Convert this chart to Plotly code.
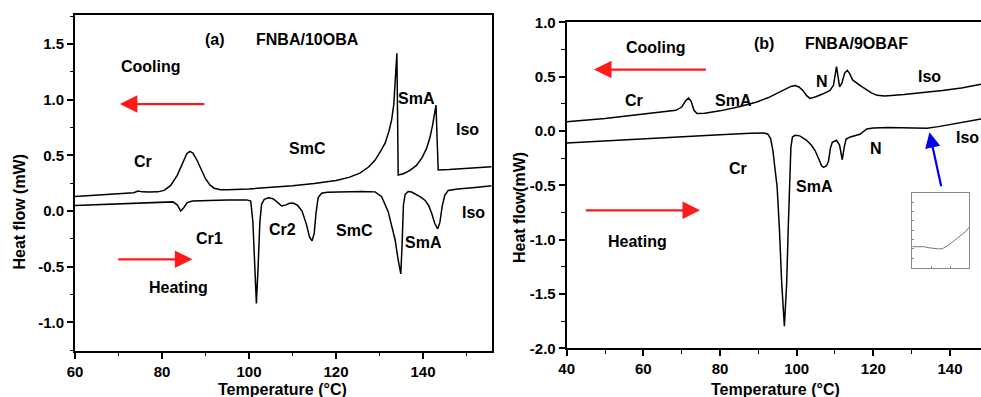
import plotly.graph_objects as go

# ---------------- (a) FNBA/10OBA ----------------
a_cool_T = [60, 64, 68, 72, 73.5, 74.5, 75.5, 77, 79, 80.5, 82, 83.5, 84.8, 85.7, 86.4, 87.1, 88, 89, 90, 91,
            92, 93.5, 95, 100, 105, 110, 115, 120, 123, 125.5, 127.5, 129, 130.3, 131.3, 132.2, 132.8, 133.3,
            133.6, 133.85, 134.0, 134.15, 134.3, 135.5, 137, 138.5, 139.8, 140.8, 141.6, 142.2, 142.6, 143.0,
            143.25, 143.5, 146, 150, 155.8]
a_cool_H = [0.130, 0.140, 0.150, 0.160, 0.165, 0.180, 0.172, 0.170, 0.172, 0.185, 0.230, 0.320, 0.440, 0.515,
            0.535, 0.520, 0.460, 0.370, 0.290, 0.235, 0.205, 0.192, 0.190, 0.198, 0.210, 0.228, 0.248, 0.275,
            0.302, 0.340, 0.395, 0.458, 0.540, 0.610, 0.720, 0.820, 0.960, 1.120, 1.300, 1.417, 0.900, 0.323,
            0.335, 0.365, 0.410, 0.480, 0.560, 0.660, 0.770, 0.880, 0.952, 0.650, 0.368, 0.372, 0.382, 0.398]

a_heat_T = [60, 65, 70, 75, 80, 82.5, 83.5, 84.3, 85.0, 85.8, 87, 90, 95, 99.5, 100.4, 100.9, 101.3, 101.7,
            102.1, 102.5, 102.9, 103.5, 104.5, 105.5, 106.5, 107.5, 108.5, 109.3, 110.1, 111.2, 112.2, 113.2,
            113.9, 114.5, 115.0, 115.4, 115.9, 116.7, 118, 122, 126, 129, 130.5, 132, 133.6, 134.3, 134.9,
            135.2, 135.5, 135.9, 136.6, 137.4, 138.5, 139.5, 140.5, 141.3, 142.0, 142.7, 143.4, 143.9, 144.4,
            145.0, 145.8, 148, 152, 155.8]
a_heat_H = [0.050, 0.058, 0.066, 0.074, 0.082, 0.082, 0.055, 0.000, 0.030, 0.075, 0.090, 0.095, 0.098, 0.100,
            0.090, -0.100, -0.500, -0.830, -0.500, -0.100, 0.060, 0.105, 0.118, 0.110, 0.080, 0.045, 0.055,
            0.070, 0.072, 0.050, 0.000, -0.120, -0.230, -0.268, -0.200, -0.020, 0.120, 0.160, 0.168, 0.172,
            0.175, 0.172, 0.128, -0.006, -0.260, -0.440, -0.565, -0.300, 0.050, 0.150, 0.175, 0.170, 0.150,
            0.125, 0.095, 0.050, -0.020, -0.110, -0.160, -0.100, 0.040, 0.140, 0.185, 0.198, 0.212, 0.227]

# ---------------- (b) FNBA/9OBAF ----------------
b_cool_T = [40, 45, 50, 55, 60, 65, 68.5, 70, 71, 71.8, 72.5, 73.2, 74, 76, 80, 85, 89.6, 92.5, 95, 97, 98.5,
            99.6, 100.6, 101.7, 102.6, 103.5, 105, 106.9, 108.7, 109.6, 110.1, 110.4, 110.8, 111.2, 111.8,
            112.5, 113.2, 113.8, 114.6, 115.5, 116.5, 118, 119.5, 121, 123, 128, 133, 138, 143, 148.1]
b_cool_H = [0.085, 0.098, 0.115, 0.135, 0.153, 0.172, 0.190, 0.220, 0.275, 0.304, 0.270, 0.190, 0.160, 0.162,
            0.185, 0.222, 0.267, 0.305, 0.350, 0.390, 0.410, 0.418, 0.405, 0.370, 0.325, 0.300, 0.315, 0.342,
            0.374, 0.420, 0.520, 0.592, 0.500, 0.405, 0.440, 0.530, 0.558, 0.530, 0.470, 0.445, 0.420, 0.385,
            0.350, 0.328, 0.322, 0.335, 0.352, 0.372, 0.395, 0.430]

b_heat_T = [40, 50, 60, 70, 80, 88, 91.5, 92.5, 93.2, 93.8, 94.3, 94.9, 95.5, 96.1, 96.8, 97.4, 97.8, 98.1,
            98.5, 98.9, 99.6, 100.8, 102.6, 103.8, 104.8, 105.8, 106.5, 107.0, 107.8, 108.3, 108.8, 109.3,
            110.4, 111.2, 111.9, 112.4, 112.9, 114.0, 115.5, 116.5, 118.3, 120, 124, 130, 134, 137, 140, 144,
            148.1]
b_heat_H = [-0.110, -0.090, -0.070, -0.052, -0.035, -0.022, -0.018, -0.030, -0.070, -0.180, -0.320, -0.515,
            -0.900, -1.400, -1.797, -1.400, -0.900, -0.480, -0.150, -0.055, -0.040, -0.045, -0.086, -0.130,
            -0.180, -0.260, -0.320, -0.335, -0.320, -0.280, -0.160, -0.105, -0.086, -0.130, -0.265, -0.150,
            -0.075, -0.055, -0.040, -0.030, 0.018, 0.028, 0.031, 0.028, 0.025, 0.040, 0.060, 0.085, 0.110]

# enlarged view of the heating trace near the N-Iso transition
inset_T = [130, 131.5, 133, 134.5, 136, 137, 138, 139.5, 141, 142.5, 144, 145]
inset_H = [0.0280, 0.0283, 0.0280, 0.0265, 0.0255, 0.0250, 0.0255, 0.0300, 0.0360, 0.0420, 0.0480, 0.0540]

# tick values
a_xticks = [60, 80, 100, 120, 140]
a_yticks = [-1.0, -0.5, 0.0, 0.5, 1.0, 1.5]
b_xticks = [40, 60, 80, 100, 120, 140]
b_yticks = [-2.0, -1.5, -1.0, -0.5, 0.0, 0.5, 1.0]

# phase labels: (text, T, mW)
a_labels = [("(a)", 92.2, 1.545), ("FNBA/10OBA", 113.4, 1.545), ("Cooling", 77.4, 1.297),
            ("Cr", 75.7, 0.443), ("SmC", 113.4, 0.563), ("SmA", 138.4, 1.013), ("Iso", 150.2, 0.728),
            ("Cr1", 91.0, -0.245), ("Cr2", 107.7, -0.165), ("SmC", 124.2, -0.177), ("SmA", 140.1, -0.281),
            ("Iso", 151.6, -0.012), ("Heating", 83.8, -0.686)]
b_labels = [("(b)", 91.5, 0.804), ("FNBA/9OBAF", 115.6, 0.804), ("Cooling", 63.4, 0.764),
            ("Cr", 57.6, 0.282), ("SmA", 83.5, 0.282), ("N", 106.7, 0.451), ("Iso", 134.6, 0.503),
            ("Cr", 84.8, -0.346), ("SmA", 104.6, -0.515), ("N", 120.6, -0.162), ("Iso", 144.7, -0.061),
            ("Heating", 58.4, -1.021)]

# direction arrows: (T_tail, mW_tail, T_head, mW_head)
a_arrows = [(90.1, 0.961, 70.3, 0.961), (69.6, -0.434, 87.0, -0.434)]
b_arrows = [(76.7, 0.565, 47.1, 0.565), (44.6, -0.73, 74.8, -0.73)]
b_pointer = (137.8, -0.523, 134.65, -0.012)

FONT = "Liberation Sans, Arial, sans-serif"
W, H = 981, 397

fig = go.Figure()
line_style = dict(color="black", width=1.5)
fig.add_trace(go.Scatter(x=a_cool_T, y=a_cool_H, mode="lines", line=line_style, xaxis="x", yaxis="y"))
fig.add_trace(go.Scatter(x=a_heat_T, y=a_heat_H, mode="lines", line=line_style, xaxis="x", yaxis="y"))
fig.add_trace(go.Scatter(x=b_cool_T, y=b_cool_H, mode="lines", line=line_style, xaxis="x2", yaxis="y2"))
fig.add_trace(go.Scatter(x=b_heat_T, y=b_heat_H, mode="lines", line=line_style, xaxis="x2", yaxis="y2"))
fig.add_trace(go.Scatter(x=inset_T, y=inset_H, mode="lines", line=dict(color="#777777", width=1),
                         xaxis="x3", yaxis="y3"))


def px_x(p):
    return p / W


def px_y(p):
    return 1 - p / H


tickfont = dict(family=FONT, size=15, color="black", weight="bold")


def main_axis(domain, rng, ticks, minor_step, fmt, mirror):
    return dict(domain=domain, range=rng, tickvals=ticks, ticktext=[fmt % t for t in ticks],
                ticks="outside", ticklen=6, tickwidth=1.5, tickcolor="black",
                minor=dict(ticks="outside", ticklen=3.5, tickwidth=1.3, tickcolor="black", dtick=minor_step,
                           tick0=0, showgrid=False),
                showline=True, linewidth=2, linecolor="black", mirror=mirror, automargin=False,
                showgrid=False, zeroline=False, tickfont=tickfont)


layout = dict(
    width=W, height=H, margin=dict(l=0, r=0, t=0, b=0, autoexpand=False),
    paper_bgcolor="white", plot_bgcolor="white", showlegend=False,
    xaxis=dict(anchor="y", **main_axis([px_x(75), px_x(491.7)], [60, 155.8], a_xticks, 10, "%d", True)),
    yaxis=dict(anchor="x", **main_axis([px_y(350.7), px_y(15)], [-1.255, 1.761], a_yticks, 0.25, "%.1f", True)),
    xaxis2=dict(anchor="y2", **main_axis([px_x(566.7), 1.0], [40, 148.1], b_xticks, 10, "%d", True)),
    yaxis2=dict(anchor="x2", **main_axis([px_y(348.3), px_y(22.3)], [-2.0, 1.0], b_yticks, 0.25, "%.1f", False)),
    xaxis3=dict(anchor="y3", domain=[px_x(912.3), px_x(969.3)], range=[130, 145], showline=True, mirror=True,
                linecolor="#888888", linewidth=1, ticks="inside", ticklen=2, tickcolor="#888888",
                dtick=5, showticklabels=False, showgrid=False, zeroline=False),
    yaxis3=dict(anchor="x3", domain=[px_y(267.7), px_y(192.7)], range=[0, 0.1], showline=True, mirror=True,
                linecolor="#888888", linewidth=1, ticks="inside", ticklen=2, tickcolor="#888888",
                dtick=0.0125, showticklabels=False, showgrid=False, zeroline=False),
)
fig.update_layout(**layout)

label_font = dict(family=FONT, size=16, color="black", weight="bold")
annotations = []
for text, t, h in a_labels:
    annotations.append(dict(text=text, x=t, y=h, xref="x", yref="y", showarrow=False, font=label_font))
for text, t, h in b_labels:
    annotations.append(dict(text=text, x=t, y=h, xref="x2", yref="y2", showarrow=False, font=label_font))

for (t0, h0, t1, h1), (xr, yr) in [(a, ("x", "y")) for a in a_arrows] + [(b, ("x2", "y2")) for b in b_arrows]:
    annotations.append(dict(x=t1, y=h1, ax=t0, ay=h0, xref=xr, yref=yr, axref=xr, ayref=yr, text="",
                            showarrow=True, arrowhead=2, arrowsize=1.6, arrowwidth=2.2, arrowcolor="#ff1a1a"))
t0, h0, t1, h1 = b_pointer
annotations.append(dict(x=t1, y=h1, ax=t0, ay=h0, xref="x2", yref="y2", axref="x2", ayref="y2", text="",
                        showarrow=True, arrowhead=2, arrowsize=1.4, arrowwidth=2.2, arrowcolor="#0000ee"))

# axis titles
title_font = dict(family=FONT, size=16, color="black", weight="bold")
annotations += [
    dict(text="Temperature (°C)", x=px_x(282.5), y=px_y(389), xref="paper", yref="paper", showarrow=False,
         font=title_font, xanchor="center", yanchor="middle"),
    dict(text="Temperature (°C)", x=px_x(775.3), y=px_y(389), xref="paper", yref="paper", showarrow=False,
         font=title_font, xanchor="center", yanchor="middle"),
    dict(text="Heat flow (mW)", x=px_x(19.5), y=px_y(212), xref="paper", yref="paper", showarrow=False,
         font=title_font, textangle=-90, xanchor="center", yanchor="middle"),
    dict(text="Heat flow(mW)", x=px_x(519), y=px_y(208), xref="paper", yref="paper", showarrow=False,
         font=title_font, textangle=-90, xanchor="center", yanchor="middle"),
]
fig.update_layout(annotations=annotations)

# page body without default spacing so the figure fills the window exactly
fig.write_html("out.html",
               post_script="document.body.style.margin='0px';document.body.style.overflow='hidden';")
